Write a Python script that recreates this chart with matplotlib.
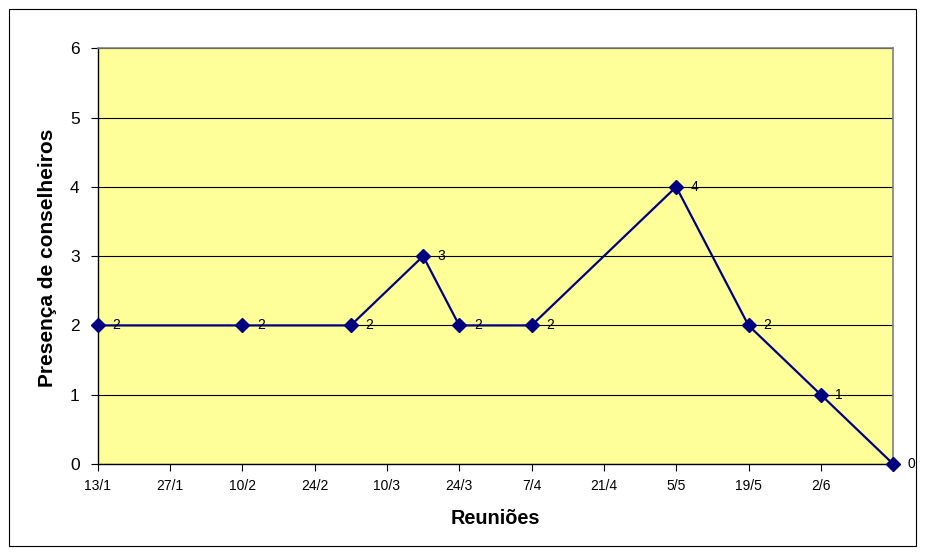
import datetime as dt
import matplotlib
matplotlib.use("Agg")
import matplotlib.pyplot as plt
import matplotlib.dates as mdates
from matplotlib.patches import Rectangle
from matplotlib.ticker import FuncFormatter

reunioes = ["13/1", "10/2", "3/3", "17/3", "24/3", "7/4", "5/5", "19/5", "2/6", "16/6"]
presenca = [2, 2, 2, 3, 2, 2, 4, 2, 1, 0]
ano = 2009

datas = [dt.date(ano, int(r.split("/")[1]), int(r.split("/")[0])) for r in reunioes]

plt.rcParams["font.family"] = ["Liberation Sans", "DejaVu Sans"]

fig = plt.figure(figsize=(9.26, 5.55), dpi=100)
fig.patches.append(Rectangle((9 / 926, 9 / 555), 907 / 926, 537 / 555,
                             transform=fig.transFigure, fill=False,
                             edgecolor="black", linewidth=0.8))

ax = fig.add_axes([0.1055, 0.164, 0.859, 0.749])
ax.set_facecolor("#FFFF99")

ax.plot(datas, presenca, color="#000080", linewidth=1.6, marker="D",
        markersize=7, markerfacecolor="#000080", markeredgecolor="#000080",
        zorder=3, clip_on=False)

for d, v in zip(datas, presenca):
    ax.annotate(str(v), (d, v), xytext=(10.5, 0), textcoords="offset points",
                va="center", ha="left", fontsize=10)

# eixo de datas: marcas de 14 em 14 dias a partir da primeira reunião
ax.set_xlim(datas[0], datas[-1])
ax.set_ylim(0, 6)
ax.set_yticks(range(0, 7))
ticks = [mdates.date2num(datas[0] + dt.timedelta(days=14 * i)) for i in range(12)]
ax.set_xticks(ticks)
ax.xaxis.set_major_formatter(FuncFormatter(
    lambda x, pos: "" if pos == 11 else f"{mdates.num2date(x).day}/{mdates.num2date(x).month}"))

ax.grid(axis="y", color="black", linewidth=0.8)
ax.set_axisbelow(True)

for s in ("top", "right"):
    ax.spines[s].set_color("#808080")
    ax.spines[s].set_linewidth(1.2)
for s in ("left", "bottom"):
    ax.spines[s].set_color("black")
    ax.spines[s].set_linewidth(1.0)

ax.tick_params(axis="y", labelsize=12.5, length=5, direction="out", pad=8)
ax.tick_params(axis="x", labelsize=10, length=5, direction="out", pad=6)

ax.set_xlabel("Reuniões", fontsize=14.3, fontweight="bold")
ax.set_ylabel("Presença de conselheiros", fontsize=15, fontweight="bold")
ax.xaxis.set_label_coords(0.5, -0.108)
ax.yaxis.set_label_coords(-0.051, 0.495)

fig.savefig("out.png", dpi=100)
